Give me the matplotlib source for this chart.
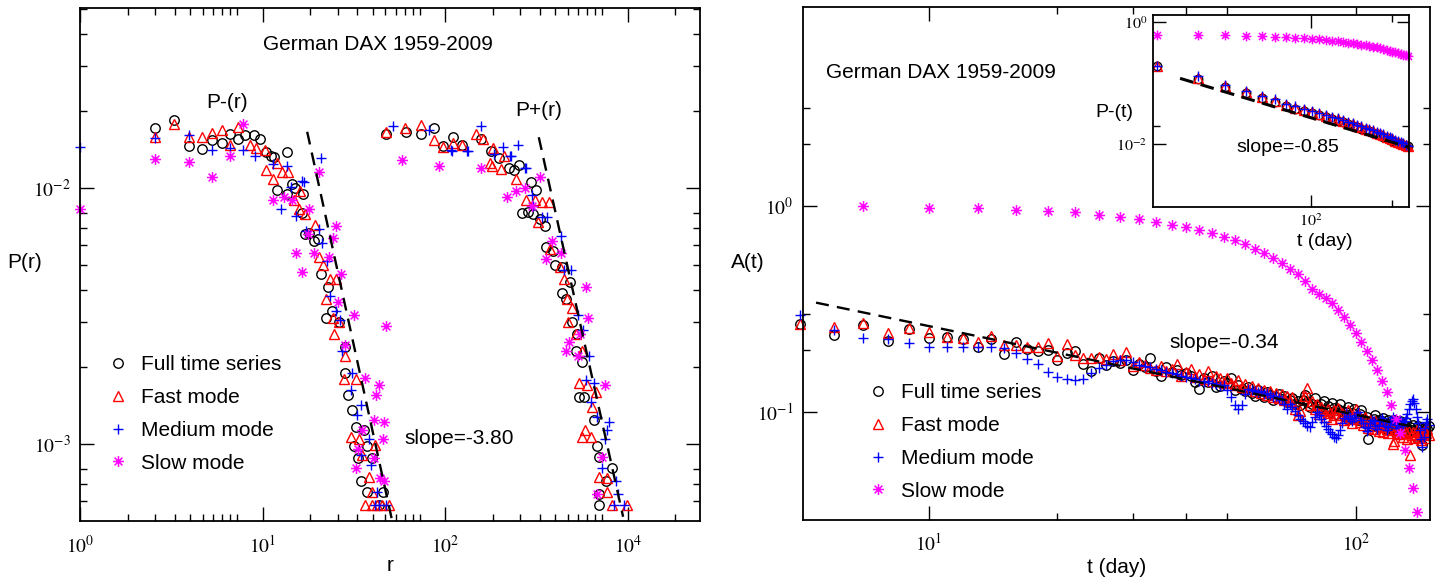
import numpy as np
import matplotlib
matplotlib.use("Agg")
import matplotlib.pyplot as plt
from matplotlib.path import Path
from matplotlib.ticker import FixedLocator, FixedFormatter, NullFormatter

plt.rcParams['font.family'] = ['Liberation Sans', 'DejaVu Sans']
plt.rcParams['mathtext.fontset'] = 'stix'

# ------------------------------------------------------------------ data
series_labels = ['Full time series', 'Fast mode', 'Medium mode', 'Slow mode']

# Left panel, P-(r)
pm_full_r = [2.98, 3.97, 4.93, 5.94, 6.94, 7.94, 8.92, 10.1, 11.2, 12.8, 14.0, 15.1, 16.3, 17.1, 17.9,
             20.7, 20.7, 22.4, 23.2, 25.9, 26.1, 27.1, 28.6, 30.6, 32.7, 33.8, 36.7, 37.6, 40.1, 44.1,
             48.7, 48.7, 50.7, 53.7, 56.5, 55.1, 58.7, 60.8, 63.8, 66.9, 66.9, 72.0, 80.0, 84.2]
pm_full_p = [0.0172, 0.0185, 0.0146, 0.0142, 0.0154, 0.0150, 0.0162, 0.0155, 0.0161, 0.0161, 0.0156,
             0.0138, 0.0133, 0.0132, 0.0098, 0.0138, 0.0095, 0.0104, 0.0100, 0.0080, 0.0095, 0.0066,
             0.0067, 0.0062, 0.0063, 0.0046, 0.0031, 0.0041, 0.0033, 0.0030, 0.0024, 0.0019, 0.00155,
             0.00136, 0.00117, 0.00098, 0.00088, 0.00072, 0.00114, 0.00098, 0.00065, 0.00088, 0.00058,
             0.00065]
pm_fast_r = [2.98, 3.97, 4.93, 5.94, 6.94, 7.94, 8.92, 10.1, 12.0, 13.2, 14.9, 15.1, 16.8, 17.9, 19.1,
             21.0, 25.2, 22.9, 24.6, 27.1, 31.3, 33.0, 35.1, 39.1, 42.1, 36.4, 40.5, 44.1, 41.1, 48.7,
             47.5, 56.5, 52.5, 59.3, 75.6, 62.4, 69.1, 72.0, 65.0, 72.0, 77.5, 83.5, 92.0]
pm_fast_p = [0.0158, 0.0178, 0.0158, 0.0159, 0.0164, 0.0168, 0.0148, 0.0173, 0.0148, 0.0144, 0.0141,
             0.0118, 0.0109, 0.0125, 0.0116, 0.0116, 0.0097, 0.0090, 0.0083, 0.0079, 0.0072, 0.0054,
             0.0050, 0.0044, 0.0044, 0.0037, 0.0031, 0.0030, 0.0027, 0.0022, 0.0018, 0.0018, 0.00107,
             0.00105, 0.00099, 0.00091, 0.000745, 0.00065, 0.000578, 0.000578, 0.000578, 0.000578,
             0.000578]
pm_med_r = [1.0, 2.98, 4.93, 6.94, 8.92, 10.9, 12.9, 16.8, 18.9, 20.6, 26.6, 34.0, 25.6, 21.8, 23.5,
            27.4, 33.0, 34.6, 37.3, 39.1, 42.1, 45.2, 46.3, 53.7, 52.5, 60.8, 57.9, 68.4, 60.8, 70.9,
            77.5, 75.6, 80.0, 88.0]
pm_med_p = [0.0145, 0.0157, 0.0161, 0.0141, 0.0143, 0.0141, 0.0133, 0.0124, 0.0083, 0.0122, 0.0106,
            0.0131, 0.0107, 0.0101, 0.0078, 0.0068, 0.0069, 0.0061, 0.0052, 0.0038, 0.0033, 0.00305,
            0.0023, 0.0019, 0.00163, 0.00142, 0.00130, 0.00105, 0.00091, 0.00083, 0.00065, 0.000578,
            0.000578, 0.000578]
pm_slow_r = [1.0, 2.98, 4.93, 6.94, 8.92, 10.9, 16.8, 19.7, 22.3, 28.5, 33.0, 23.5, 25.6, 28.2, 30.6,
             38.2, 40.7, 42.1, 45.9, 43.7, 55.1, 48.7, 65.0, 79.5, 76.5, 73.9, 85.2, 62.4, 84.2, 58.7,
             56.5, 73.9, 81.1, 88.4, 86.0]
pm_slow_p = [0.0083, 0.0130, 0.0126, 0.0111, 0.0134, 0.0178, 0.0090, 0.0092, 0.0090, 0.0083, 0.0116,
             0.0056, 0.0047, 0.0066, 0.0056, 0.0054, 0.0064, 0.0071, 0.0046, 0.0036, 0.0032, 0.00244,
             0.00182, 0.00170, 0.00155, 0.00124, 0.00122, 0.00114, 0.00105, 0.00096, 0.00081, 0.00088,
             0.00074, 0.0029, 0.00072]

# Left panel, P+(r)
pp_full_r = [88.8, 118.5, 147, 177.4, 203, 235.3, 269.2, 352.7, 408.4, 461.3, 534.1, 579.8, 618.4,
             643.6, 733.9, 789.6, 759.3, 710.7, 837.5, 905, 922.6, 1018, 1048, 1167, 1301, 1156, 1226,
             1350, 1453, 1419, 1563, 1489, 1602, 1856, 1949, 1997, 2435, 2203, 1997, 1997]
pp_full_p = [0.0163, 0.0166, 0.0163, 0.0172, 0.0146, 0.0158, 0.0148, 0.0156, 0.0139, 0.0131, 0.0120,
             0.0118, 0.0123, 0.0080, 0.0106, 0.0098, 0.0079, 0.0081, 0.0076, 0.0071, 0.0059, 0.0057,
             0.0050, 0.0049, 0.0043, 0.0039, 0.0037, 0.0030, 0.0027, 0.0023, 0.0021, 0.00153, 0.00153,
             0.00124, 0.00098, 0.00089, 0.00081, 0.00072, 0.00064, 0.000578]
pp_fast_r = [88.8, 116.1, 147, 177.4, 203, 235.3, 269.2, 329.3, 364.3, 403.3, 425.6, 494.2, 414.5,
             472.8, 589.3, 682.3, 781.6, 869.9, 965, 820.5, 969, 1123, 1196, 1255, 1338, 1275, 1419,
             1563, 1489, 1683, 1903, 1811, 1621, 1563, 1768, 1997, 2256, 2256, 2406, 3024]
pp_fast_p = [0.0166, 0.0171, 0.0177, 0.0154, 0.0145, 0.0150, 0.0148, 0.0163, 0.0156, 0.0125, 0.0144,
             0.0134, 0.0122, 0.0119, 0.0109, 0.0090, 0.0090, 0.0088, 0.0088, 0.0074, 0.0058, 0.0049,
             0.0044, 0.0037, 0.0034, 0.0030, 0.0027, 0.0023, 0.00173, 0.0017, 0.0016, 0.0014, 0.00114,
             0.00107, 0.00107, 0.000745, 0.00074, 0.00065, 0.000578, 0.000578]
pp_med_r = [98.1, 166.1, 227.5, 292, 356.8, 486.9, 612, 546.9, 676, 763.8, 873.8, 230.6, 289.7, 428.7,
            547.5, 682.3, 745, 936, 1140, 1196, 1319, 1474, 1578, 1725, 1643, 1856, 1768, 1949, 2312,
            2256, 2181, 2096, 2575, 2650, 2489, 2882]
pp_med_p = [0.0175, 0.0169, 0.0141, 0.0139, 0.0175, 0.0145, 0.0147, 0.0133, 0.0120, 0.0085, 0.0077,
            0.0139, 0.0139, 0.0136, 0.0134, 0.0120, 0.0094, 0.0077, 0.0065, 0.0048, 0.0048, 0.0032,
            0.0028, 0.0022, 0.00178, 0.00173, 0.00146, 0.00128, 0.00122, 0.00114, 0.00105, 0.00081,
            0.00072, 0.00064, 0.000578, 0.000578]
pp_slow_r = [110.8, 192.9, 355.8, 837.5, 516.7, 595.5, 675.6, 751.6, 1009, 914.3, 1139.5, 1643, 1704,
             1525, 1287, 1240, 1467, 2181, 2096, 1949]
pp_slow_p = [0.0129, 0.0122, 0.0120, 0.0111, 0.0092, 0.0097, 0.0100, 0.0085, 0.0062, 0.0053, 0.0056,
             0.0041, 0.0031, 0.0027, 0.0025, 0.0023, 0.0022, 0.00170, 0.00089, 0.00064]

# fitted slope lines (end points)
fit_minus_r = [27.8, 96.0]
fit_minus_p = [0.0166, 0.00051]
fit_plus_r = [828, 2850]
fit_plus_p = [0.0158, 0.00052]

# Right panel, A(t)
t_days = list(range(5, 149))
a_full = [0.267, 0.238, 0.265, 0.222, 0.253,
          0.228, 0.232, 0.226, 0.206, 0.226, 0.191, 0.218, 0.203, 0.198, 0.200,
          0.179, 0.194, 0.199, 0.172, 0.159, 0.184, 0.169, 0.177, 0.174, 0.179,
          0.160, 0.172, 0.165, 0.183, 0.158, 0.150, 0.165, 0.156, 0.160, 0.152,
          0.155, 0.149, 0.140, 0.130, 0.146, 0.140, 0.150, 0.132, 0.134, 0.142,
          0.138, 0.146, 0.128, 0.136, 0.130, 0.127, 0.132, 0.124, 0.120, 0.128,
          0.123, 0.118, 0.125, 0.121, 0.115, 0.118, 0.122, 0.116, 0.120, 0.112,
          0.114, 0.117, 0.110, 0.113, 0.108, 0.115, 0.121, 0.112, 0.106, 0.110,
          0.117, 0.108, 0.104, 0.109, 0.113, 0.103, 0.107, 0.100, 0.111, 0.105,
          0.098, 0.104, 0.109, 0.101, 0.096, 0.100, 0.106, 0.094, 0.099, 0.103,
          0.095, 0.091, 0.098, 0.102, 0.093, 0.088, 0.095, 0.074, 0.090, 0.086,
          0.093, 0.097, 0.089, 0.092, 0.085, 0.090, 0.094, 0.088, 0.083, 0.091,
          0.087, 0.084, 0.089, 0.092, 0.086, 0.081, 0.087, 0.090, 0.084, 0.080,
          0.086, 0.089, 0.083, 0.079, 0.085, 0.082, 0.087, 0.081, 0.076, 0.083,
          0.086, 0.080, 0.084, 0.069, 0.082, 0.085, 0.079, 0.083, 0.086]
a_fast = [0.267, 0.259, 0.270, 0.241, 0.255,
          0.245, 0.232, 0.228, 0.219, 0.233, 0.212, 0.212, 0.208, 0.208, 0.216,
          0.187, 0.214, 0.189, 0.184, 0.184, 0.185, 0.182, 0.192, 0.180, 0.195,
          0.168, 0.176, 0.170, 0.164, 0.160, 0.168, 0.158, 0.162, 0.171, 0.150,
          0.157, 0.162, 0.148, 0.153, 0.145, 0.158, 0.141, 0.150, 0.146, 0.138,
          0.147, 0.139, 0.135, 0.143, 0.132, 0.137, 0.129, 0.134, 0.126, 0.131,
          0.124, 0.128, 0.121, 0.127, 0.119, 0.124, 0.117, 0.122, 0.115, 0.120,
          0.113, 0.118, 0.104, 0.097, 0.101, 0.116, 0.120, 0.131, 0.108, 0.113,
          0.103, 0.109, 0.098, 0.106, 0.101, 0.095, 0.104, 0.099, 0.093, 0.102,
          0.097, 0.105, 0.094, 0.099, 0.091, 0.097, 0.102, 0.093, 0.088, 0.096,
          0.104, 0.094, 0.089, 0.093, 0.087, 0.095, 0.090, 0.084, 0.092, 0.088,
          0.083, 0.090, 0.086, 0.081, 0.089, 0.085, 0.080, 0.087, 0.083, 0.079,
          0.086, 0.082, 0.070, 0.072, 0.084, 0.079, 0.078, 0.083, 0.080, 0.076,
          0.082, 0.079, 0.074, 0.081, 0.062, 0.077, 0.080, 0.075, 0.078, 0.082,
          0.076, 0.080, 0.073, 0.078, 0.081, 0.075, 0.079, 0.083, 0.077]
a_med = [0.296, 0.250, 0.228, 0.226, 0.216,
         0.208, 0.207, 0.206, 0.208, 0.208, 0.204, 0.194, 0.182, 0.172, 0.157,
         0.148, 0.144, 0.143, 0.145, 0.154, 0.163, 0.169, 0.178, 0.180, 0.179,
         0.176, 0.170, 0.168, 0.165, 0.162, 0.160, 0.157, 0.155, 0.153, 0.150,
         0.148, 0.146, 0.145, 0.142, 0.140, 0.141, 0.138, 0.137, 0.134, 0.135,
         0.128, 0.118, 0.108, 0.104, 0.108, 0.122, 0.130, 0.128, 0.127, 0.125,
         0.126, 0.123, 0.124, 0.121, 0.119, 0.120, 0.117, 0.114, 0.110, 0.104,
         0.110, 0.106, 0.101, 0.097, 0.093, 0.090, 0.088, 0.086, 0.085, 0.089,
         0.095, 0.100, 0.097, 0.093, 0.089, 0.086, 0.083, 0.080, 0.078, 0.076,
         0.075, 0.077, 0.082, 0.088, 0.094, 0.099, 0.096, 0.093, 0.090, 0.094,
         0.097, 0.100, 0.096, 0.092, 0.088, 0.085, 0.081, 0.084, 0.088, 0.092,
         0.090, 0.086, 0.083, 0.087, 0.091, 0.094, 0.090, 0.086, 0.082, 0.085,
         0.088, 0.092, 0.095, 0.091, 0.087, 0.084, 0.088, 0.092, 0.089, 0.086,
         0.090, 0.094, 0.098, 0.104, 0.109, 0.113, 0.116, 0.111, 0.103, 0.095,
         0.088, 0.082, 0.074, 0.068, 0.076, 0.084, 0.089, 0.093, 0.087]
t_slow = list(range(7, 140, 3))
a_slow = [1.000, 0.985, 0.975, 0.963, 0.949, 0.932, 0.911, 0.887, 0.865, 0.839, 0.814, 0.791, 0.765,
          0.740, 0.712, 0.684, 0.654, 0.623, 0.593, 0.561, 0.530, 0.498, 0.466, 0.432, 0.398, 0.375,
          0.358, 0.337, 0.312, 0.290, 0.264, 0.241, 0.219, 0.198, 0.179, 0.160, 0.141, 0.1255, 0.108,
          0.093, 0.0788, 0.0654, 0.0533, 0.0426, 0.0328]
fit_a_t = [5.44, 141]
fit_a_v = [0.340, 0.0836]

# Inset, P-(t)
ti = [16, 26, 36, 46, 56, 65, 74, 83, 92, 101, 110, 119, 128, 137, 146, 155, 164, 173, 182, 191,
      200, 209, 218, 227, 236, 245, 254, 263, 272, 281, 290, 299, 308, 317]
pi_full = [0.190, 0.116, 0.0849, 0.0678, 0.0561, 0.0494, 0.0420, 0.0379, 0.0348, 0.0318, 0.0295,
           0.0274, 0.0257, 0.0241, 0.0226, 0.0213, 0.0200, 0.0190, 0.0178, 0.0170, 0.0161, 0.0153,
           0.0146, 0.0139, 0.0132, 0.0125, 0.0119, 0.0113, 0.0108, 0.0104, 0.0100, 0.0096, 0.0094,
           0.0092]
pi_fast = [0.190, 0.120, 0.088, 0.0705, 0.0585, 0.0515, 0.0437, 0.0395, 0.0363, 0.0332, 0.0308,
           0.0286, 0.0268, 0.0252, 0.0237, 0.0223, 0.0210, 0.0199, 0.0187, 0.0178, 0.0169, 0.0161,
           0.0153, 0.0146, 0.0139, 0.0132, 0.0125, 0.0119, 0.0113, 0.0108, 0.0104, 0.0100, 0.0097,
           0.0094]
pi_med = [0.192, 0.128, 0.094, 0.075, 0.062, 0.0545, 0.046, 0.0415, 0.038, 0.0348, 0.0322, 0.0299,
          0.028, 0.0263, 0.0247, 0.0232, 0.0219, 0.0207, 0.0195, 0.0185, 0.0176, 0.0167, 0.0159,
          0.0151, 0.0144, 0.0137, 0.013, 0.0124, 0.0118, 0.0112, 0.0107, 0.0102, 0.0098, 0.0094]
pi_slow = [0.612, 0.612, 0.612, 0.589, 0.589, 0.574, 0.561, 0.547, 0.540, 0.526, 0.520, 0.507, 0.494,
           0.482, 0.470, 0.458, 0.447, 0.436, 0.425, 0.414, 0.404, 0.394, 0.385, 0.370, 0.361, 0.347,
           0.339, 0.326, 0.318, 0.306, 0.299, 0.291, 0.284, 0.277]
fit_i_t = [21.1, 320]
fit_i_p = [0.119, 0.00883]

# ------------------------------------------------------------------ figure
W, H = 1440, 582
fig = plt.figure(figsize=(W / 100, H / 100), dpi=100)


def axes_px(l, r, t, b):
    return fig.add_axes([l / W, 1 - b / H, (r - l) / W, (b - t) / H])


axL = axes_px(80.3, 699.5, 8.3, 520.7)
axR = axes_px(803, 1430, 7.3, 520)
axI = axes_px(1153, 1409, 15, 207)

star = Path([(-1, 0), (1, 0), (0, -1), (0, 1), (-0.72, -0.72), (0.72, 0.72), (-0.72, 0.72), (0.72, -0.72)],
            [Path.MOVETO, Path.LINETO] * 4)


def styles(scale=1.0):
    return [dict(ls='none', marker='o', mfc='none', mec='black', ms=6.8 * scale, mew=1.0, clip_on=False),
            dict(ls='none', marker='^', mfc='none', mec='red', ms=7.4 * scale, mew=1.0, clip_on=False),
            dict(ls='none', marker='+', color='blue', ms=7.8 * scale, mew=1.0, clip_on=False),
            dict(ls='none', marker=star, mfc='none', mec='magenta', color='magenta', ms=7.8 * scale,
                 mew=1.1, clip_on=False)]


dash = dict(color='black', lw=1.7, dashes=(5.5, 3.5))

# ---- left panel
st = styles()
hL = []
for (xr, yp), s in zip([(pm_full_r, pm_full_p), (pm_fast_r, pm_fast_p),
                        (pm_med_r, pm_med_p), (pm_slow_r, pm_slow_p)], st):
    hL.append(axL.plot(xr, yp, **s)[0])
for (xr, yp), s in zip([(pp_full_r, pp_full_p), (pp_fast_r, pp_fast_p),
                        (pp_med_r, pp_med_p), (pp_slow_r, pp_slow_p)], st):
    axL.plot(xr, yp, **s)
axL.plot(fit_minus_r, fit_minus_p, **dash)
axL.plot(fit_plus_r, fit_plus_p, **dash)

axL.set_xscale('log')
axL.set_yscale('log')
axL.set_xlim(1, 8730)
axL.set_ylim(5.02e-4, 0.0504)
q = 14.51  # spacing of the labelled major ticks on this axis
majL = [q ** k for k in range(4)]
minL = [m * k for m in majL for k in range(2, 11) if m * k < 8730]
axL.xaxis.set_major_locator(FixedLocator(majL))
axL.xaxis.set_major_formatter(FixedFormatter([r'$10^{0}$', r'$10^{1}$', r'$10^{2}$', r'$10^{4}$']))
axL.xaxis.set_minor_locator(FixedLocator(minL))
axL.xaxis.set_minor_formatter(NullFormatter())
axL.yaxis.set_major_locator(FixedLocator([1e-3, 1e-2]))
axL.yaxis.set_major_formatter(FixedFormatter([r'$10^{-3}$', r'$10^{-2}$']))
axL.yaxis.set_minor_locator(FixedLocator([6e-4, 7e-4, 8e-4, 2e-3, 3e-3, 4e-3, 5e-3, 6e-3, 7e-3, 8e-3,
                                          2e-2, 3e-2, 4e-2, 5e-2]))
axL.yaxis.set_minor_formatter(NullFormatter())

# ---- right panel
st = styles()
hR = []
for yv, s in zip([a_full, a_fast, a_med], st[:3]):
    hR.append(axR.plot(t_days, yv, **s)[0])
hR.append(axR.plot(t_slow, a_slow, **st[3])[0])
axR.plot(fit_a_t, fit_a_v, **dash)
axR.set_xscale('log')
axR.set_yscale('log')
axR.set_xlim(5.07, 149.1)
axR.set_ylim(0.0299, 9.25)
axR.xaxis.set_major_locator(FixedLocator([10, 100]))
axR.xaxis.set_major_formatter(FixedFormatter([r'$10^{1}$', r'$10^{2}$']))
axR.xaxis.set_minor_locator(FixedLocator([20, 30, 40, 50]))
axR.xaxis.set_minor_formatter(NullFormatter())
axR.yaxis.set_major_locator(FixedLocator([0.1, 1]))
axR.yaxis.set_major_formatter(FixedFormatter([r'$10^{-1}$', r'$10^{0}$']))
axR.yaxis.set_minor_locator(FixedLocator([0.2, 0.3, 2, 3]))
axR.yaxis.set_minor_formatter(NullFormatter())

# ---- inset
st = styles(0.9)
for yv, s in zip([pi_full, pi_fast, pi_med, pi_slow], st):
    axI.plot(ti, yv, **s)
axI.plot(fit_i_t, fit_i_p, color='black', lw=2.2, dashes=(4.5, 2.5))
axI.set_xscale('log')
axI.set_yscale('log')
axI.set_xlim(15.3, 320)
axI.set_ylim(0.000927, 1.30)
axI.xaxis.set_major_locator(FixedLocator([100]))
axI.xaxis.set_major_formatter(FixedFormatter([r'$10^{2}$']))
axI.xaxis.set_minor_locator(FixedLocator([260]))
axI.xaxis.set_minor_formatter(NullFormatter())
axI.yaxis.set_major_locator(FixedLocator([0.01, 1]))
axI.yaxis.set_major_formatter(FixedFormatter([r'$10^{-2}$', r'$10^{0}$']))
axI.yaxis.set_minor_locator(FixedLocator([0.02]))
axI.yaxis.set_minor_formatter(NullFormatter())

for ax, fs, ml in [(axL, 14, 10), (axR, 14, 10), (axI, 11.5, 9)]:
    ax.tick_params(which='both', direction='in', top=True, right=True, width=1.0)
    ax.tick_params(which='major', length=ml, labelsize=fs)
    ax.tick_params(which='minor', length=5)
    for sp in ax.spines.values():
        sp.set_linewidth(1.3)
axL.tick_params(axis='x', which='major', pad=10)
axL.tick_params(axis='y', which='major', pad=7)
axR.tick_params(axis='x', which='major', pad=9)
axR.tick_params(axis='y', which='major', pad=7)
axI.tick_params(which='major', pad=4)
axI.set_facecolor('white')

# ---- labels
axL.set_ylabel('P(r)', fontsize=15, rotation=0, ha='center', va='center')
axL.yaxis.set_label_coords(-0.0893, 0.503)
axL.set_xlabel('r', fontsize=15, va='center')
axL.xaxis.set_label_coords(0.5002, -0.0865)
axR.set_ylabel('A(t)', fontsize=15, rotation=0, ha='center', va='center')
axR.yaxis.set_label_coords(-0.0885, 0.5013)
axR.set_xlabel('t (day)', fontsize=15, va='center')
axR.xaxis.set_label_coords(0.5008, -0.0936)
axI.set_ylabel('P-(t)', fontsize=14, rotation=0, ha='center', va='center')
axI.yaxis.set_label_coords(-0.15, 0.4896)
axI.set_xlabel('t (day)', fontsize=14, va='center')
axI.xaxis.set_label_coords(0.672, -0.182)


def ftext(x, y, s, fs=15):
    fig.text(x / W, 1 - y / H, s, ha='center', va='center', fontsize=fs)


ftext(378.4, 45, 'German DAX 1959-2009')
ftext(227.5, 103, 'P-(r)')
ftext(539, 110, 'P+(r)')
ftext(458.7, 438, 'slope=-3.80')
ftext(941, 72, 'German DAX 1959-2009')
ftext(1224, 343, 'slope=-0.34')
ftext(1288, 147, 'slope=-0.85', 14)

leg_kw = dict(loc='upper left', frameon=False, fontsize=15, handlelength=1.0, handletextpad=0.6,
              labelspacing=0.66, borderpad=0, borderaxespad=0, numpoints=1)
axL.legend(hL, series_labels, bbox_to_anchor=(0.0446, 0.3226), **leg_kw)
axR.legend(hR, series_labels, bbox_to_anchor=(0.1035, 0.2664), **leg_kw)

fig.savefig('out.png', dpi=100)
